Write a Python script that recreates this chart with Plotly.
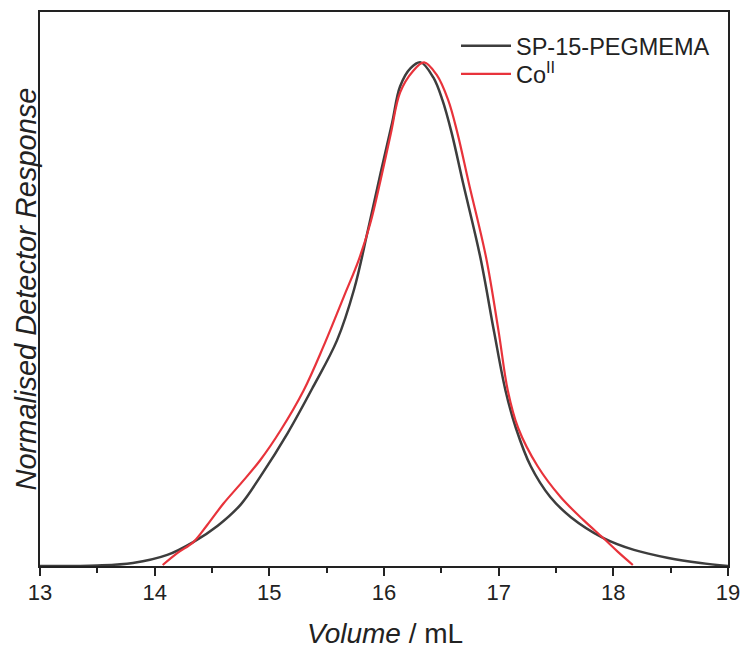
import plotly.graph_objects as go

# SP-15-PEGMEMA (black)
vol_sp = [13.0, 13.5, 13.81, 14.11, 14.34, 14.55, 14.75, 14.92, 15.16, 15.38, 15.59, 15.74,
          15.86, 15.97, 16.07, 16.14, 16.23, 16.32, 16.43, 16.51, 16.59, 16.69, 16.84, 16.96,
          17.06, 17.15, 17.28, 17.45, 17.63, 17.91, 18.18, 18.48, 18.76, 19.0]
resp_sp = [0.0, 0.001, 0.006, 0.022, 0.048, 0.080, 0.122, 0.177, 0.264, 0.355, 0.448, 0.550,
           0.667, 0.780, 0.879, 0.952, 0.988, 1.0, 0.970, 0.925, 0.860, 0.760, 0.613, 0.465,
           0.348, 0.274, 0.198, 0.137, 0.097, 0.056, 0.032, 0.016, 0.006, 0.0]

# Co(II) (red)
vol_co = [14.07, 14.20, 14.34, 14.46, 14.60, 14.76, 14.92, 15.10, 15.30, 15.47, 15.65, 15.78,
          15.88, 15.97, 16.06, 16.14, 16.25, 16.35, 16.46, 16.56, 16.64, 16.74, 16.89, 17.0,
          17.08, 17.17, 17.34, 17.54, 17.74, 17.91, 18.04, 18.17]
resp_co = [0.002, 0.026, 0.048, 0.082, 0.124, 0.166, 0.210, 0.270, 0.349, 0.435, 0.535, 0.608,
           0.680, 0.766, 0.859, 0.940, 0.982, 1.0, 0.975, 0.925, 0.860, 0.760, 0.613, 0.465,
           0.348, 0.274, 0.198, 0.137, 0.091, 0.056, 0.028, 0.002]

x_ticks = [13, 14, 15, 16, 17, 18, 19]

fig = go.Figure()
fig.add_trace(go.Scatter(x=vol_sp, y=resp_sp, mode="lines", name="SP-15-PEGMEMA", legend="legend",
                         line=dict(color="#3d3d3d", width=2.5, shape="spline", smoothing=1.0)))
fig.add_trace(go.Scatter(x=vol_co, y=resp_co, mode="lines", name="Co<sup>II</sup>", legend="legend2",
                         line=dict(color="#e8333b", width=2.2, shape="spline", smoothing=1.0)))

L, R, T, B = 40, 17, 12, 83
pw = 745 - L - R
ph = 649 - T - B


def px_x(p):
    return (p - L) / pw


def px_y(p):
    return 1 - (p - T) / ph


leg_common = dict(xanchor="left", yanchor="top", bgcolor="rgba(0,0,0,0)",
                  font=dict(size=23.5, color="#222"), itemwidth=50)

fig.update_layout(
    width=745, height=649,
    margin=dict(l=L, r=R, t=T, b=B, autoexpand=False),
    plot_bgcolor="white", paper_bgcolor="white",
    font=dict(family="Liberation Sans, Arial, sans-serif", color="#222"),
    showlegend=True,
    legend=dict(x=px_x(456), y=px_y(24), **leg_common),
    legend2=dict(x=px_x(456), y=px_y(52), **leg_common),
    xaxis=dict(range=[13, 19], tickvals=x_ticks, ticks="outside", ticklen=8, tickwidth=1.5,
               tickcolor="#222", tickfont=dict(size=22, color="#222"), ticklabelstandoff=-2,
               minor=dict(dtick=0.5, ticks="outside", ticklen=5, tickwidth=1.5, tickcolor="#222"),
               showline=True, linecolor="#222", linewidth=1.5, mirror=True, showgrid=False,
               zeroline=False, automargin=False),
    yaxis=dict(range=[0, 1.1], showticklabels=False, ticks="", showline=True, linecolor="#222",
               linewidth=1.5, mirror=True, showgrid=False, zeroline=False, automargin=False),
    annotations=[
        dict(text="<i>Volume</i> / mL", xref="paper", yref="paper",
             x=px_x(385), y=px_y(633), xanchor="center", yanchor="middle",
             showarrow=False, font=dict(size=28, color="#222")),
        dict(text="<i>Normalised Detector Response</i>", xref="paper", yref="paper",
             x=px_x(25.5), y=px_y(289), xanchor="center", yanchor="middle", textangle=-90,
             showarrow=False, font=dict(size=29, color="#222")),
    ],
)

fig.write_html("out.html")
